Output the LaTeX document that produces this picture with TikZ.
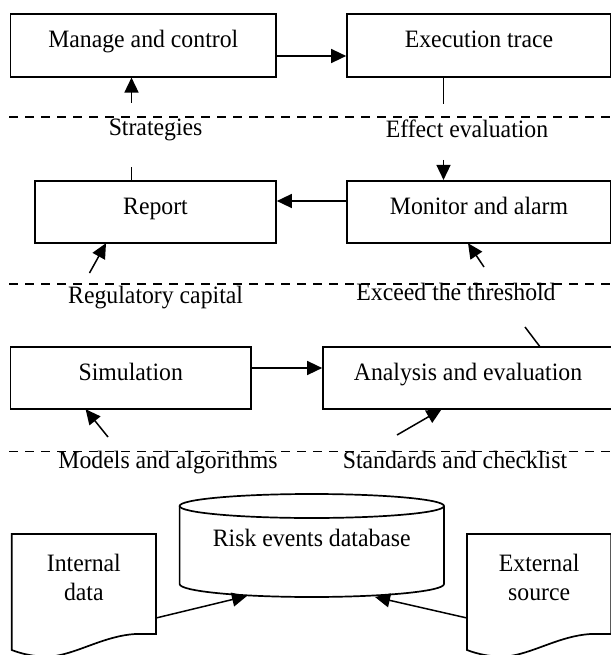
\documentclass[tikz,border=0pt]{standalone}
\usepackage{fontspec}
\setmainfont[FakeStretch=0.95]{Liberation Serif}
\usetikzlibrary{arrows.meta}
\begin{document}
\begin{tikzpicture}[x=1pt,y=-1pt,
  font=\fontsize{25}{29}\selectfont,
  box/.style={draw, line width=1.7pt, inner sep=0pt, minimum height=62.4pt, text height=12pt, text depth=8pt},
  ln/.style={line width=1.5pt},
  arr/.style={ln, -{Triangle[length=15pt,width=14pt]}},
  dashline/.style={line width=1.5pt, dash pattern=on 9pt off 7pt},
  lbl/.style={inner sep=0pt, anchor=base},
  doctext/.style={inner sep=0pt, align=center, minimum width=144pt, minimum height=100pt}]
\useasboundingbox (0,0) rectangle (610,655);

% dashed separators
\coordinate (d1a) at (9,117);   \coordinate (d1b) at (612,117);
\coordinate (d2a) at (9,284);   \coordinate (d2b) at (612,284);
\coordinate (d3a) at (9,451.7); \coordinate (d3b) at (612,451.7);
\draw[dashline] (d1a) -- (d1b);
\draw[dashline] (d2a) -- (d2b);
\draw[dashline] (d3a) -- (d3b);

% boxes
\node[box, minimum width=265.5pt] (manage) at (143.25,45.5) {Manage and control};
\node[box, minimum width=264pt] (exec) at (479,45.5) {Execution trace};
\node[box, minimum width=241pt] (report) at (155.5,212) {Report};
\node[box, minimum width=264pt] (monitor) at (479,212) {Monitor and alarm};
\node[box, minimum width=240.5pt] (sim) at (130.75,378) {Simulation};
\node[box, minimum width=290pt] (analysis) at (468,378) {Analysis and evaluation};

% labels
\node[lbl] (strat) at (155.6,136) {Strategies};
\node[lbl] (effect) at (467,138) {Effect evaluation};
\node[lbl] (regcap) at (155.6,303) {Regulatory capital};
\node[lbl] (exceed) at (456,300) {Exceed the threshold};
\node[lbl] (models) at (168,468) {Models and algorithms};
\node[lbl] (standards) at (455,468) {Standards and checklist};

% horizontal connectors
\draw[arr] ([yshift=-10.5pt]manage.east) -- ([yshift=-10.5pt]exec.west);
\draw[arr] ([yshift=11pt]monitor.west) -- ([yshift=11pt]report.east);
\draw[arr] ([yshift=10pt]sim.east) -- ([yshift=10pt]analysis.west);

% strategies
\coordinate (s1) at (131.5,103);
\coordinate (s2) at (131.5,166.7);
\draw[arr] (s1) -- (s1 |- manage.south);
\draw[ln] (report.north -| s2) -- (s2);
% effect evaluation
\coordinate (e1) at (443.5,104);
\coordinate (e2) at (443.5,160);
\draw[ln] (exec.south -| e1) -- (e1);
\draw[arr] (e2) -- (e2 |- monitor.north);
% regulatory capital
\coordinate (r1) at (89.5,273);
\coordinate (r2) at (106,243.2);
\draw[arr] (r1) -- (r2);
% exceed the threshold
\coordinate (x1) at (484,267);
\coordinate (x2) at (468,243.2);
\coordinate (x3) at (525,327);
\coordinate (x4) at (540,346.8);
\draw[arr] (x1) -- (x2);
\draw[ln] (x4) -- (x3);
% models
\coordinate (m1) at (108,437);
\coordinate (m2) at (85.6,409.2);
\draw[arr] (m1) -- (m2);
% standards
\coordinate (t1) at (397,435);
\coordinate (t2) at (441.6,409.2);
\draw[arr] (t1) -- (t2);

% database cylinder
\draw[line width=1.7pt] (311.8,506) ellipse [x radius=132.2pt, y radius=12pt];
\draw[line width=1.7pt] (179.6,506) -- (179.6,584)
  .. controls (179.6,591.2) and (238.8,597) .. (311.8,597)
  .. controls (384.8,597) and (444,591.2) .. (444,584) -- (444,506);
\node[inner sep=0pt, anchor=base] (db) at (311.8,546.5) {Risk events database};
\coordinate (dbl) at (247,596);
\coordinate (dbr) at (375,597);

% documents
\draw[line width=1.7pt] (11.7,534) -- (156,534) -- (156,634) -- (135,634)
  .. controls (105,636) and (80,652) .. (55,656)
  .. controls (38,658) and (22,654) .. (11.7,650) -- cycle;
\node[doctext] (internal) at (83.85,577) {Internal\\data};
\draw[line width=1.7pt] (467,534) -- (611.3,534) -- (611.3,634) -- (590.3,634)
  .. controls (560.3,636) and (535.3,652) .. (510.3,656)
  .. controls (493.3,658) and (477.3,654) .. (467,650) -- cycle;
\node[doctext] (external) at (539.15,577) {External\\source};

\coordinate (ia) at (156,618);
\coordinate (ea) at (467,618);
\draw[arr] (ia) -- (dbl);
\draw[arr] (ea) -- (dbr);
\end{tikzpicture}
\end{document}
